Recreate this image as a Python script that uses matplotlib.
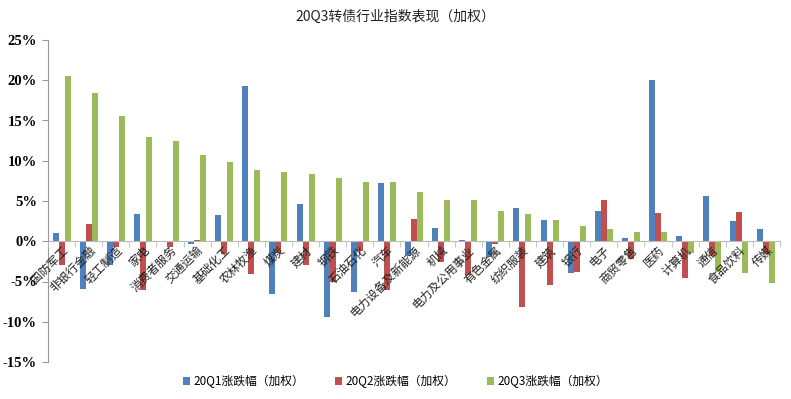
import numpy as np
import matplotlib.pyplot as plt

plt.rcParams['font.family'] = ['Noto Sans CJK SC', 'DejaVu Sans']

industries = ['国防军工', '非银行金融', '轻工制造', '家电', '消费者服务', '交通运输', '基础化工',
              '农林牧渔', '煤炭', '建材', '钢铁', '石油石化', '汽车', '电力设备及新能源', '机械',
              '电力及公用事业', '有色金属', '纺织服装', '建筑', '银行', '电子', '商贸零售', '医药',
              '计算机', '通信', '食品饮料', '传媒']
q1 = [1.0, -5.9, -2.9, 3.4, -0.1, -0.3, 3.3, 19.3, -6.5, 4.6, -9.4, -6.3, 7.2, -1.8, 1.7,
      0.2, -2.0, 4.1, 2.6, -3.9, 3.7, 0.4, 20.0, 0.6, 5.6, 2.5, 1.5]
q2 = [-2.9, 2.2, -0.7, -6.1, -0.7, 0.1, -1.6, -4.1, -1.4, -2.9, -5.0, -1.2, -6.1, 2.8, -2.6,
      -4.2, -0.4, -8.2, -5.4, -3.8, 5.1, -2.2, 3.5, -4.6, -1.8, 3.6, -1.6]
q3 = [20.5, 18.4, 15.6, 12.9, 12.4, 10.7, 9.9, 8.8, 8.6, 8.3, 7.9, 7.3, 7.3, 6.1, 5.1,
      5.1, 3.8, 3.4, 2.7, 1.9, 1.5, 1.2, 1.1, -1.5, -3.8, -4.0, -5.2]
series = ['20Q1涨跌幅（加权）', '20Q2涨跌幅（加权）', '20Q3涨跌幅（加权）']
colors = ['#4F81BD', '#C0504D', '#9BBB59']

fig = plt.figure(figsize=(7.91, 3.99), dpi=100)
ax = fig.add_axes([48 / 791, 37 / 399, 732 / 791, 322 / 399])
ax.set_axisbelow(False)

x = np.arange(len(industries))
w = 0.22
for i, (vals, name, c) in enumerate(zip([q1, q2, q3], series, colors)):
    ax.bar(x + (i - 1) * w, vals, width=w, color=c, label=name, zorder=1)

ax.set_xlim(-0.5, len(industries) - 0.5)
ax.set_ylim(-15, 25)
ax.set_yticks(np.arange(-15, 26, 5))
ax.set_yticklabels([f'{v}%' for v in range(-15, 26, 5)],
                   fontfamily='Liberation Serif', fontweight='bold', fontsize=10.5)

for s in ['top', 'right']:
    ax.spines[s].set_visible(False)
ax.spines['left'].set_color('#999999')
ax.spines['bottom'].set_position(('data', 0))
ax.spines['bottom'].set_color('#bbbbbb')
ax.tick_params(axis='y', length=4, color='#999999', pad=4)

ax.set_xticks(x)
ax.set_xticklabels(industries, rotation=45, ha='right', va='top',
                   rotation_mode='anchor', fontsize=8.5, color='#222222')
ax.tick_params(axis='x', which='major', length=0, pad=2)
ax.set_xticks(np.arange(-0.5, len(industries), 1), minor=True)
ax.tick_params(axis='x', which='minor', length=4, color='#bbbbbb')

fig.suptitle('20Q3转债行业指数表现（加权）', x=0.5, y=0.975, fontsize=10, color='#222222')
fig.legend(loc='lower center', bbox_to_anchor=(0.5, 0.0), ncol=3, frameon=False,
           fontsize=8.5, handlelength=0.6, handleheight=0.6, columnspacing=2.6, handletextpad=0.3)

fig.savefig('out.png', dpi=100)
